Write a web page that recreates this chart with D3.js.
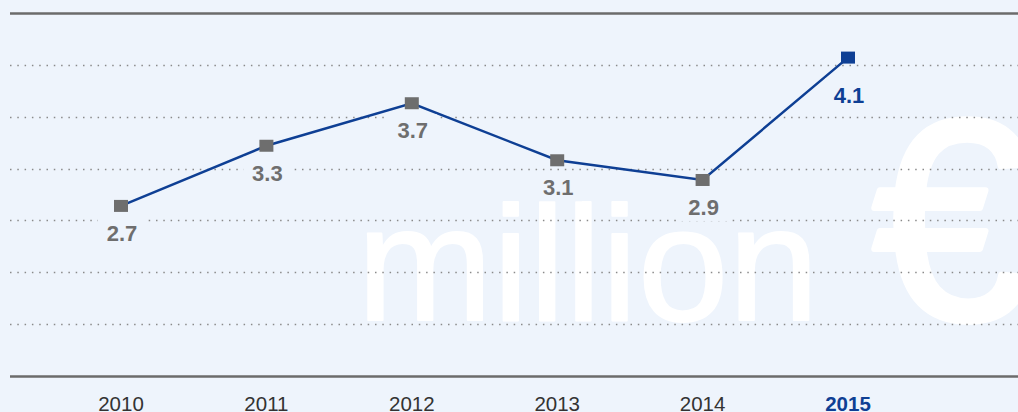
<!DOCTYPE html>
<html>
<head>
<meta charset="utf-8">
<script src="https://cdn.jsdelivr.net/npm/d3@7"></script>
<style>
  html, body { margin: 0; padding: 0; background: #eef4fc; overflow: hidden; }
  svg { display: block; font-family: "Liberation Sans", Arial, sans-serif; }
</style>
</head>
<body>
<div id="chart"></div>
<script>
/* CONSTANTS AND GLOBALS */
const width = 1018,
  height = 412,
  margin = { top: 13, bottom: 36, left: 10, right: 0 };

const bg = "#eef4fc",
  blue = "#0e3f94",
  grey = "#6e6e6e";

/* DATA */
const years = [2010, 2011, 2012, 2013, 2014, 2015];
const revenue = [2.68, 3.26, 3.67, 3.12, 2.93, 4.11]; // million €
const highlightYear = 2015;
const yMin = 1.04, yMax = 4.54, gridStep = 0.5;
const watermarkWord = "million";
const watermarkSymbol = "€";

const data = years.map((y, i) => ({ year: y, value: revenue[i] }));

/* SCALES */
const xScale = d3.scaleLinear()
  .domain([years[0], years[years.length - 1]])
  .range([121, 848]);

const yScale = d3.scaleLinear()
  .domain([yMin, yMax])
  .range([height - margin.bottom, margin.top]);

const svg = d3.select("#chart")
  .append("svg")
  .attr("width", width)
  .attr("height", height);

svg.append("rect")
  .attr("width", width)
  .attr("height", height)
  .attr("fill", bg);

// big watermark behind everything (stroked a little for a heavier look)
svg.append("text")
  .attr("x", 357)
  .attr("y", 320)
  .attr("font-size", 163)
  .attr("fill", "#ffffff")
  .attr("stroke", "#ffffff")
  .attr("stroke-width", 2)
  .attr("stroke-linejoin", "round")
  .text(watermarkWord);

svg.append("text")
  .attr("x", 872)
  .attr("y", 319)
  .attr("font-size", 286)
  .attr("fill", "#ffffff")
  .attr("stroke", "#ffffff")
  .attr("stroke-width", 6)
  .attr("stroke-linejoin", "round")
  .text(watermarkSymbol);

// grid lines: solid at the ends, dotted in between
const gridVals = d3.range(0, Math.round((yMax - yMin) / gridStep) + 1).map(k => yMin + k * gridStep);
const last = gridVals.length - 1;

svg.append("g")
  .selectAll("line")
  .data(gridVals)
  .join("line")
  .attr("x1", margin.left)
  .attr("x2", width - margin.right)
  .attr("y1", d => Math.round(yScale(d)) + 0.5)
  .attr("y2", d => Math.round(yScale(d)) + 0.5)
  .attr("stroke", (d, i) => (i === 0 || i === last) ? "#6b6b6b" : "#8a8a8a")
  .attr("stroke-width", (d, i) => (i === 0 || i === last) ? 2.5 : 1.5)
  .attr("stroke-dasharray", (d, i) => (i === 0 || i === last) ? null : "1.5,5.8");

// x axis labels
svg.append("g")
  .selectAll("text")
  .data(years)
  .join("text")
  .attr("x", d => xScale(d))
  .attr("y", 411)
  .attr("text-anchor", "middle")
  .attr("font-size", 20.5)
  .attr("font-weight", d => d === highlightYear ? "bold" : "normal")
  .attr("fill", d => d === highlightYear ? blue : "#333333")
  .text(d => d);

// line
const lineFunc = d3.line()
  .x(d => xScale(d.year))
  .y(d => yScale(d.value));

svg.append("path")
  .datum(data)
  .attr("fill", "none")
  .attr("stroke", blue)
  .attr("stroke-width", 2.5)
  .attr("d", lineFunc);

// markers
svg.append("g")
  .selectAll("rect")
  .data(data)
  .join("rect")
  .attr("x", d => xScale(d.year) - 7)
  .attr("y", d => yScale(d.value) - 6)
  .attr("width", 14)
  .attr("height", 12)
  .attr("fill", d => d.year === highlightYear ? blue : grey);

// value labels with knock-out background
const fmt = d3.format(".1f");
const labels = svg.append("g")
  .selectAll("g")
  .data(data)
  .join("g")
  .attr("transform", d => `translate(${xScale(d.year) + 1},${yScale(d.value) + (d.year === highlightYear ? 45 : 35)})`);

labels.append("rect")
  .attr("x", -24)
  .attr("y", -24)
  .attr("width", 48)
  .attr("height", 30)
  .attr("fill", bg);

labels.append("text")
  .attr("text-anchor", "middle")
  .attr("font-size", 22)
  .attr("font-weight", "bold")
  .attr("fill", d => d.year === highlightYear ? blue : grey)
  .text(d => fmt(d.value));
</script>
</body>
</html>
